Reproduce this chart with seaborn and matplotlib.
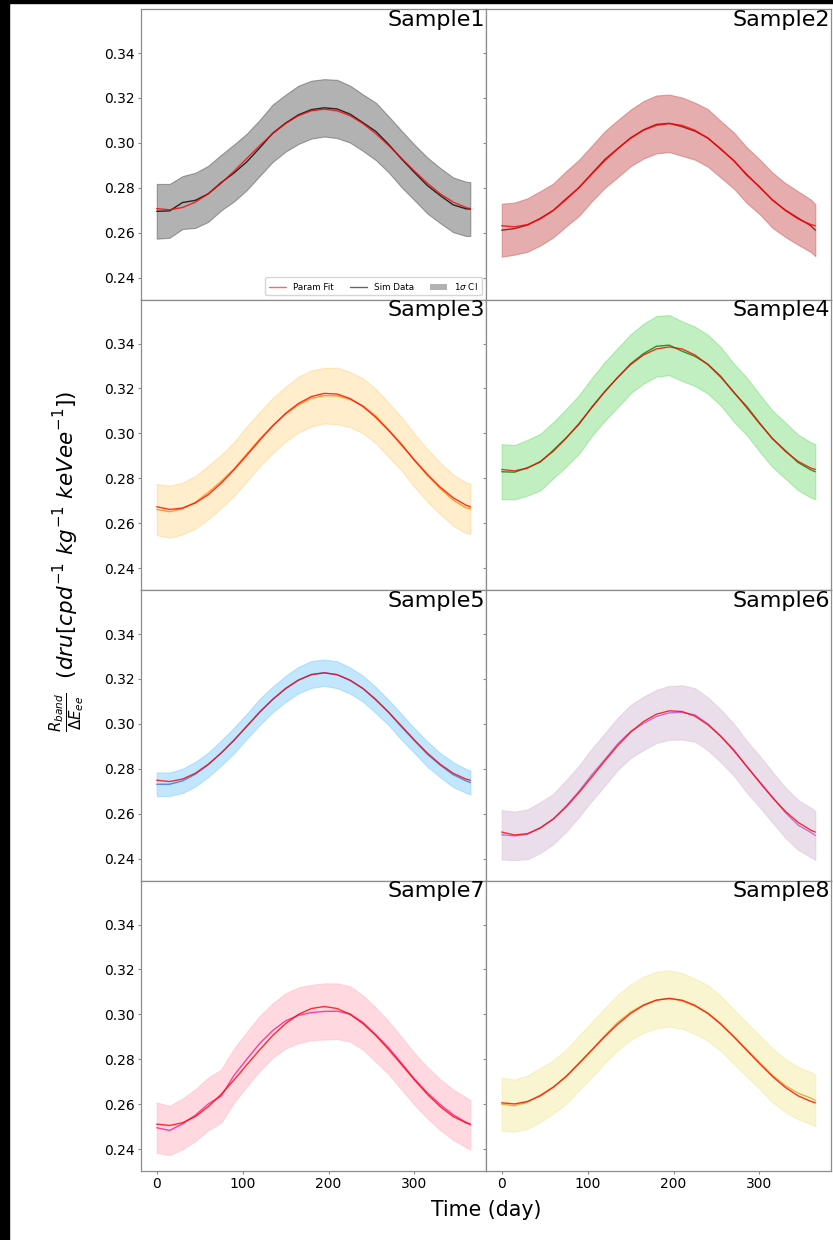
import matplotlib
matplotlib.use("Agg")
import matplotlib.pyplot as plt
import seaborn as sns
from matplotlib.lines import Line2D
from matplotlib.patches import Patch, Rectangle

# day grid the values were read on
days = [0, 15, 30, 45, 60, 75, 90, 105, 120, 135, 150, 165, 180, 195,
        210, 225, 240, 255, 270, 285, 300, 315, 330, 345, 360, 365]

names = ["Sample1", "Sample2", "Sample3", "Sample4",
         "Sample5", "Sample6", "Sample7", "Sample8"]

fit_1 = [0.2707, 0.2702, 0.2712, 0.2736, 0.2773, 0.2820, 0.2874, 0.2931, 0.2988, 0.3041, 0.3086, 0.3121, 0.3143,
         0.3150, 0.3143, 0.3121, 0.3086, 0.3041, 0.2988, 0.2931, 0.2874, 0.2820, 0.2773, 0.2736, 0.2712, 0.2707]
sim_1 = [0.2695, 0.2697, 0.2734, 0.2744, 0.2773, 0.2823, 0.2866, 0.2916, 0.2978, 0.3043, 0.3088, 0.3125, 0.3148,
         0.3156, 0.3151, 0.3128, 0.3090, 0.3051, 0.2993, 0.2928, 0.2868, 0.2810, 0.2765, 0.2724, 0.2706, 0.2705]
err_1 = [0.0122, 0.0120, 0.0118, 0.0123, 0.0125, 0.0124, 0.0127, 0.0126, 0.0125, 0.0128, 0.0127, 0.0130, 0.0129,
         0.0128, 0.0130, 0.0127, 0.0126, 0.0128, 0.0125, 0.0126, 0.0124, 0.0125, 0.0123, 0.0122, 0.0121, 0.0120]

fit_2 = [0.2631, 0.2626, 0.2636, 0.2661, 0.2699, 0.2747, 0.2802, 0.2861, 0.2920, 0.2974, 0.3020, 0.3056, 0.3078,
         0.3086, 0.3078, 0.3056, 0.3020, 0.2974, 0.2920, 0.2861, 0.2802, 0.2747, 0.2699, 0.2661, 0.2636, 0.2631]
sim_2 = [0.2611, 0.2618, 0.2634, 0.2664, 0.2699, 0.2751, 0.2800, 0.2864, 0.2926, 0.2974, 0.3022, 0.3058, 0.3082,
         0.3087, 0.3072, 0.3052, 0.3022, 0.2971, 0.2922, 0.2857, 0.2805, 0.2745, 0.2701, 0.2665, 0.2630, 0.2611]
err_2 = [0.0118, 0.0116, 0.0119, 0.0121, 0.0120, 0.0123, 0.0125, 0.0124, 0.0126, 0.0127, 0.0126, 0.0128, 0.0129,
         0.0128, 0.0130, 0.0127, 0.0128, 0.0126, 0.0125, 0.0124, 0.0122, 0.0123, 0.0120, 0.0119, 0.0117, 0.0116]

fit_3 = [0.2673, 0.2661, 0.2667, 0.2690, 0.2727, 0.2778, 0.2838, 0.2903, 0.2970, 0.3033, 0.3089, 0.3133, 0.3164,
         0.3178, 0.3175, 0.3155, 0.3120, 0.3071, 0.3013, 0.2948, 0.2881, 0.2817, 0.2760, 0.2713, 0.2680, 0.2673]
sim_3 = [0.2661, 0.2651, 0.2665, 0.2693, 0.2737, 0.2786, 0.2842, 0.2909, 0.2975, 0.3035, 0.3086, 0.3128, 0.3156,
         0.3168, 0.3167, 0.3151, 0.3123, 0.3077, 0.3015, 0.2953, 0.2879, 0.2813, 0.2754, 0.2703, 0.2668, 0.2665]
err_3 = [0.0114, 0.0116, 0.0115, 0.0117, 0.0119, 0.0118, 0.0120, 0.0122, 0.0121, 0.0123, 0.0122, 0.0124, 0.0125,
         0.0124, 0.0126, 0.0123, 0.0122, 0.0121, 0.0120, 0.0119, 0.0118, 0.0117, 0.0115, 0.0114, 0.0113, 0.0112]

fit_4 = [0.2839, 0.2833, 0.2845, 0.2875, 0.2920, 0.2978, 0.3044, 0.3115, 0.3185, 0.3250, 0.3306, 0.3349, 0.3376,
         0.3385, 0.3376, 0.3349, 0.3306, 0.3250, 0.3185, 0.3115, 0.3044, 0.2978, 0.2920, 0.2875, 0.2845, 0.2839]
sim_4 = [0.2829, 0.2827, 0.2847, 0.2872, 0.2925, 0.2980, 0.3040, 0.3118, 0.3187, 0.3248, 0.3310, 0.3355, 0.3388,
         0.3393, 0.3366, 0.3343, 0.3308, 0.3254, 0.3182, 0.3121, 0.3047, 0.2976, 0.2924, 0.2870, 0.2837, 0.2829]
err_4 = [0.0123, 0.0121, 0.0124, 0.0126, 0.0125, 0.0128, 0.0130, 0.0129, 0.0131, 0.0132, 0.0131, 0.0133, 0.0135,
         0.0134, 0.0133, 0.0132, 0.0131, 0.0130, 0.0129, 0.0128, 0.0127, 0.0126, 0.0125, 0.0124, 0.0123, 0.0123]

fit_5 = [0.2749, 0.2743, 0.2754, 0.2780, 0.2820, 0.2870, 0.2928, 0.2990, 0.3052, 0.3109, 0.3158, 0.3195, 0.3219,
         0.3227, 0.3219, 0.3195, 0.3158, 0.3109, 0.3052, 0.2990, 0.2928, 0.2870, 0.2820, 0.2780, 0.2754, 0.2749]
sim_5 = [0.2731, 0.2731, 0.2746, 0.2776, 0.2818, 0.2870, 0.2926, 0.2990, 0.3054, 0.3109, 0.3156, 0.3195, 0.3220,
         0.3228, 0.3219, 0.3193, 0.3157, 0.3106, 0.3050, 0.2986, 0.2925, 0.2865, 0.2816, 0.2774, 0.2746, 0.2739]
err_5 = [0.0053, 0.0052, 0.0054, 0.0055, 0.0054, 0.0056, 0.0057, 0.0056, 0.0058, 0.0057, 0.0058, 0.0059, 0.0060,
         0.0059, 0.0060, 0.0058, 0.0057, 0.0058, 0.0056, 0.0057, 0.0055, 0.0056, 0.0054, 0.0055, 0.0053, 0.0053]

fit_6 = [0.2518, 0.2505, 0.2511, 0.2536, 0.2576, 0.2630, 0.2694, 0.2764, 0.2835, 0.2903, 0.2963, 0.3010, 0.3043,
         0.3058, 0.3055, 0.3034, 0.2996, 0.2944, 0.2881, 0.2812, 0.2740, 0.2672, 0.2611, 0.2561, 0.2526, 0.2518]
sim_6 = [0.2506, 0.2501, 0.2508, 0.2538, 0.2576, 0.2634, 0.2700, 0.2774, 0.2841, 0.2911, 0.2966, 0.3002, 0.3033,
         0.3049, 0.3051, 0.3040, 0.3000, 0.2946, 0.2886, 0.2810, 0.2744, 0.2674, 0.2605, 0.2549, 0.2516, 0.2503]
err_6 = [0.0110, 0.0108, 0.0111, 0.0113, 0.0112, 0.0115, 0.0114, 0.0116, 0.0117, 0.0116, 0.0118, 0.0119, 0.0118,
         0.0120, 0.0121, 0.0119, 0.0118, 0.0117, 0.0116, 0.0115, 0.0114, 0.0113, 0.0112, 0.0111, 0.0110, 0.0109]

fit_7 = [0.2511, 0.2505, 0.2517, 0.2545, 0.2589, 0.2644, 0.2708, 0.2776, 0.2843, 0.2906, 0.2959, 0.3000, 0.3026,
         0.3035, 0.3026, 0.3000, 0.2959, 0.2906, 0.2843, 0.2776, 0.2708, 0.2644, 0.2589, 0.2545, 0.2517, 0.2511]
sim_7 = [0.2495, 0.2483, 0.2512, 0.2551, 0.2601, 0.2636, 0.2728, 0.2801, 0.2871, 0.2928, 0.2971, 0.2996, 0.3008,
         0.3013, 0.3014, 0.3002, 0.2964, 0.2909, 0.2851, 0.2782, 0.2712, 0.2651, 0.2598, 0.2553, 0.2519, 0.2509]
err_7 = [0.0112, 0.0110, 0.0113, 0.0115, 0.0117, 0.0118, 0.0120, 0.0121, 0.0122, 0.0121, 0.0123, 0.0124, 0.0123,
         0.0125, 0.0124, 0.0123, 0.0121, 0.0120, 0.0118, 0.0117, 0.0115, 0.0114, 0.0113, 0.0112, 0.0111, 0.0110]

fit_8 = [0.2606, 0.2601, 0.2612, 0.2637, 0.2675, 0.2724, 0.2781, 0.2841, 0.2901, 0.2956, 0.3004, 0.3040, 0.3063,
         0.3071, 0.3063, 0.3040, 0.3004, 0.2956, 0.2901, 0.2841, 0.2781, 0.2724, 0.2675, 0.2637, 0.2612, 0.2606]
sim_8 = [0.2600, 0.2593, 0.2609, 0.2641, 0.2677, 0.2722, 0.2784, 0.2843, 0.2906, 0.2964, 0.3010, 0.3043, 0.3064,
         0.3071, 0.3060, 0.3036, 0.3006, 0.2960, 0.2901, 0.2844, 0.2787, 0.2729, 0.2683, 0.2649, 0.2627, 0.2616]
err_8 = [0.0118, 0.0116, 0.0119, 0.0120, 0.0119, 0.0121, 0.0122, 0.0123, 0.0122, 0.0124, 0.0123, 0.0125, 0.0126,
         0.0125, 0.0124, 0.0123, 0.0124, 0.0122, 0.0121, 0.0120, 0.0119, 0.0120, 0.0118, 0.0117, 0.0116, 0.0115]

fits = [fit_1, fit_2, fit_3, fit_4, fit_5, fit_6, fit_7, fit_8]
sims = [sim_1, sim_2, sim_3, sim_4, sim_5, sim_6, sim_7, sim_8]
errs = [err_1, err_2, err_3, err_4, err_5, err_6, err_7, err_8]

fill_colors = ["black", "indianred", "orange", "limegreen",
               "lightskyblue", "thistle", "pink", "khaki"]
fill_alpha = [0.3, 0.5, 0.2, 0.3, 0.5, 0.5, 0.6, 0.4]
line_colors = ["black", "darkred", "darkorange", "green",
               "royalblue", "mediumorchid", "deeppink", "goldenrod"]

sns.set_style("ticks", {"axes.edgecolor": "0.55"})
plt.rcParams['font.family'] = ['DejaVu Sans']
plt.rcParams['text.color'] = 'black'
plt.rcParams['xtick.major.size'] = 2.5
plt.rcParams['ytick.major.size'] = 2.5
plt.rcParams['xtick.major.pad'] = 2
plt.rcParams['ytick.major.pad'] = 2
plt.rcParams['xtick.color'] = '0.55'
plt.rcParams['ytick.color'] = '0.55'
plt.rcParams['xtick.labelcolor'] = 'black'
plt.rcParams['ytick.labelcolor'] = 'black'

fig, axes = plt.subplots(4, 2, figsize=(8.33, 12.4), sharex=True, sharey=True)
fig.subplots_adjust(left=0.1693, right=0.9976, top=0.9927, bottom=0.0556,
                    wspace=0, hspace=0)

for i, ax in enumerate(axes.flat):
    lo = [s - e for s, e in zip(sims[i], errs[i])]
    hi = [s + e for s, e in zip(sims[i], errs[i])]
    ax.fill_between(days, lo, hi, color=fill_colors[i], alpha=fill_alpha[i], lw=0.8)
    sns.lineplot(x=days, y=sims[i], ax=ax, color=line_colors[i], lw=1.0, alpha=0.8)
    sns.lineplot(x=days, y=fits[i], ax=ax, color="red", lw=1.0, alpha=0.8)
    ax.text(0.998, 0.997, names[i], transform=ax.transAxes, ha="right", va="top",
            fontsize=16, color="black")
    ax.set_xlabel("")
    ax.set_ylabel("")
    ax.tick_params(labelsize=10)
    for sp in ax.spines.values():
        sp.set_linewidth(0.9)

ax = axes[0, 0]
ax.set_ylim(0.2302, 0.3596)
ax.set_yticks([0.24, 0.26, 0.28, 0.30, 0.32, 0.34])
ax.set_xticks([0, 100, 200, 300])

handles = [Line2D([], [], color="red", alpha=0.6, lw=1.0),
           Line2D([], [], color="black", alpha=0.6, lw=1.0),
           Patch(color="black", alpha=0.3, lw=0)]
ax.legend(handles, ["Param Fit", "Sim Data", r"1$\sigma$ CI"], loc="lower right",
          ncol=3, fontsize=6.3, columnspacing=1.8)

fig.text(0.5834, 0.024, "Time (day)", ha="center", va="center", fontsize=14.8)
fig.text(0.08, 0.547,
         r"$\frac{R_{band}}{\Delta E_{ee}}$  $(dru[cpd^{-1}\ kg^{-1}\ keVee^{-1}])$",
         rotation=90, ha="center", va="center", fontsize=15.5)

# dark strips along the left and top edge of the original image
fig.patches.append(Rectangle((0, 0), 9 / 833, 1, transform=fig.transFigure,
                             color="black", zorder=10))
fig.patches.append(Rectangle((0, 1 - 3 / 1240), 1, 3 / 1240, transform=fig.transFigure,
                             color="black", zorder=10))

fig.savefig("out.png", dpi=100)
plt.close()
